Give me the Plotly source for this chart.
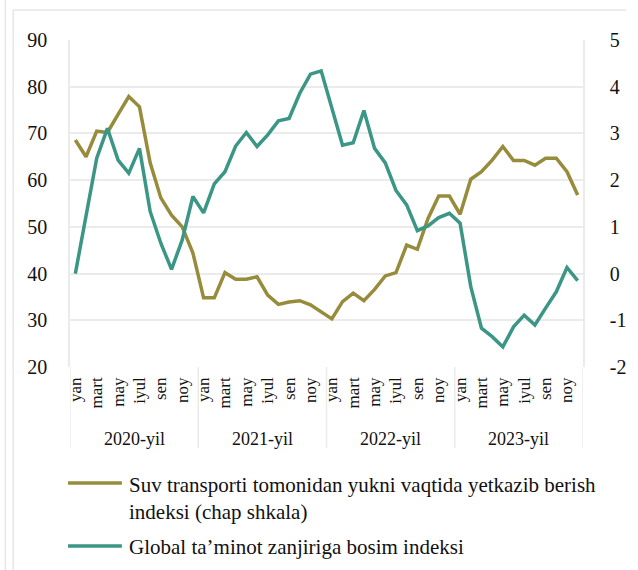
import plotly.graph_objects as go

# Monthly observations, Jan 2020 - Dec 2023
years = ["2020-yil", "2021-yil", "2022-yil", "2023-yil"]
month_labels = ["yan", "mart", "may", "iyul", "sen", "noy"]

# Water transport on-time delivery index (left scale)
delivery_index = [
    68.6, 65.0, 70.5, 70.2, 74.1, 77.9, 75.7, 63.7, 56.2, 52.5, 50.0, 44.4,
    34.8, 34.8, 40.2, 38.8, 38.8, 39.3, 35.4, 33.4, 33.9, 34.2, 33.3, 31.7,
    30.3, 34.0, 35.8, 34.2, 36.6, 39.5, 40.2, 46.1, 45.2, 51.8, 56.6, 56.6,
    52.7, 60.2, 61.8, 64.3, 67.2, 64.2, 64.2, 63.2, 64.7, 64.7, 61.8, 56.8,
]

# Global supply chain pressure index (right scale)
pressure_index = [
    0.00, 1.20, 2.47, 3.11, 2.43, 2.15, 2.68, 1.33, 0.65, 0.09, 0.72, 1.65,
    1.30, 1.92, 2.18, 2.73, 3.02, 2.72, 2.97, 3.27, 3.32, 3.86, 4.27, 4.34,
    3.56, 2.75, 2.80, 3.49, 2.68, 2.37, 1.78, 1.47, 0.92, 1.02, 1.20, 1.29,
    1.08, -0.28, -1.17, -1.35, -1.57, -1.14, -0.89, -1.10, -0.74, -0.39, 0.13, -0.15,
]

left_ticks = [20, 30, 40, 50, 60, 70, 80, 90]
right_ticks = [-2, -1, 0, 1, 2, 3, 4, 5]

series_names = [
    "Suv transporti tomonidan yukni vaqtida yetkazib berish<br>indeksi (chap shkala)",
    "Global ta\u2019minot zanjiriga bosim indeksi",
]

GOLD = "#978C3C"
TEAL = "#3B9686"
GRID = "#EBEBEB"
FONT = "Times New Roman, Liberation Serif, DejaVu Serif, serif"

W, H = 638, 570
PL, PR, PT, PB = 70, 594, 40, 367


def fx(px):
    return (px - PL) / (PR - PL)


def fy(py):
    return (PB - py) / (PB - PT)


x = list(range(len(delivery_index)))

fig = go.Figure()
fig.add_trace(go.Scatter(x=x, y=delivery_index, mode="lines",
                         line=dict(color=GOLD, width=3.5), name=series_names[0],
                         yaxis="y"))
fig.add_trace(go.Scatter(x=x, y=pressure_index, mode="lines",
                         line=dict(color=TEAL, width=3.5), name=series_names[1],
                         yaxis="y2"))

# month tick labels every second month
tickvals = []
ticktext = []
for yi in range(len(years)):
    for mi, m in enumerate(month_labels):
        tickvals.append(yi * 12 + mi * 2)
        ticktext.append(m)

shapes = []
annotations = []

# year group separators below the plot
for yi in range(len(years) + 1):
    shapes.append(dict(type="line", xref="x", yref="paper",
                       x0=yi * 12 - 0.5, x1=yi * 12 - 0.5,
                       y0=0, y1=fy(448), line=dict(color=GRID, width=1.5)))
for yi, ylab in enumerate(years):
    annotations.append(dict(text=ylab, xref="x", yref="paper",
                            x=yi * 12 + 5.5, y=fy(439), showarrow=False,
                            xanchor="center", yanchor="middle",
                            font=dict(family=FONT, size=18, color="#111")))

# outer frame
shapes.append(dict(type="line", xref="paper", yref="paper",
                   x0=fx(4), x1=fx(4), y0=fy(0), y1=fy(H),
                   line=dict(color="#E6E6E6", width=1.5)))
shapes.append(dict(type="line", xref="paper", yref="paper",
                   x0=fx(12), x1=fx(12), y0=fy(10), y1=fy(H),
                   line=dict(color="#E6E6E6", width=1.5)))
shapes.append(dict(type="line", xref="paper", yref="paper",
                   x0=fx(12), x1=fx(W), y0=fy(10), y1=fy(10),
                   line=dict(color="#E6E6E6", width=1.5)))

# legend drawn below the chart
legend_rows = [(483, 471, GOLD, series_names[0]), (546, 533, TEAL, series_names[1])]
for ly, ty, col, name in legend_rows:
    shapes.append(dict(type="line", xref="paper", yref="paper",
                       x0=fx(68), x1=fx(123), y0=fy(ly), y1=fy(ly),
                       line=dict(color=col, width=3.5)))
    annotations.append(dict(text=name, xref="paper", yref="paper",
                            x=fx(128), y=fy(ty), showarrow=False,
                            xanchor="left", yanchor="top", align="left",
                            font=dict(family=FONT, size=21, color="#111")))

fig.update_layout(
    width=W, height=H,
    margin=dict(l=PL, r=W - PR, t=PT, b=H - PB, pad=0),
    paper_bgcolor="white", plot_bgcolor="white",
    showlegend=False,
    font=dict(family=FONT, color="#111"),
    xaxis=dict(range=[-0.5, len(x) - 0.5], tickmode="array",
               tickvals=tickvals, ticktext=ticktext, tickangle=-90,
               showgrid=False, zeroline=False, showline=False, ticks="",
               ticklabelstandoff=6,
               tickfont=dict(family=FONT, size=17, color="#111")),
    yaxis=dict(range=[20, 90], tickmode="array", tickvals=left_ticks,
               ticktext=[str(v) for v in left_ticks],
               gridcolor=GRID, gridwidth=1.5, zeroline=False,
               showline=True, linecolor=GRID, linewidth=1.5, ticks="",
               ticklabelstandoff=17,
               tickfont=dict(family=FONT, size=20, color="#111")),
    yaxis2=dict(range=[-2, 5], overlaying="y", side="right",
                tickmode="array", tickvals=right_ticks,
                ticktext=[str(v) for v in right_ticks],
                showgrid=False, zeroline=False,
                showline=True, linecolor=GRID, linewidth=1.5, ticks="",
                ticklabelstandoff=21,
                tickfont=dict(family=FONT, size=20, color="#111")),
    shapes=shapes,
    annotations=annotations,
)

fig.write_html("out.html")
